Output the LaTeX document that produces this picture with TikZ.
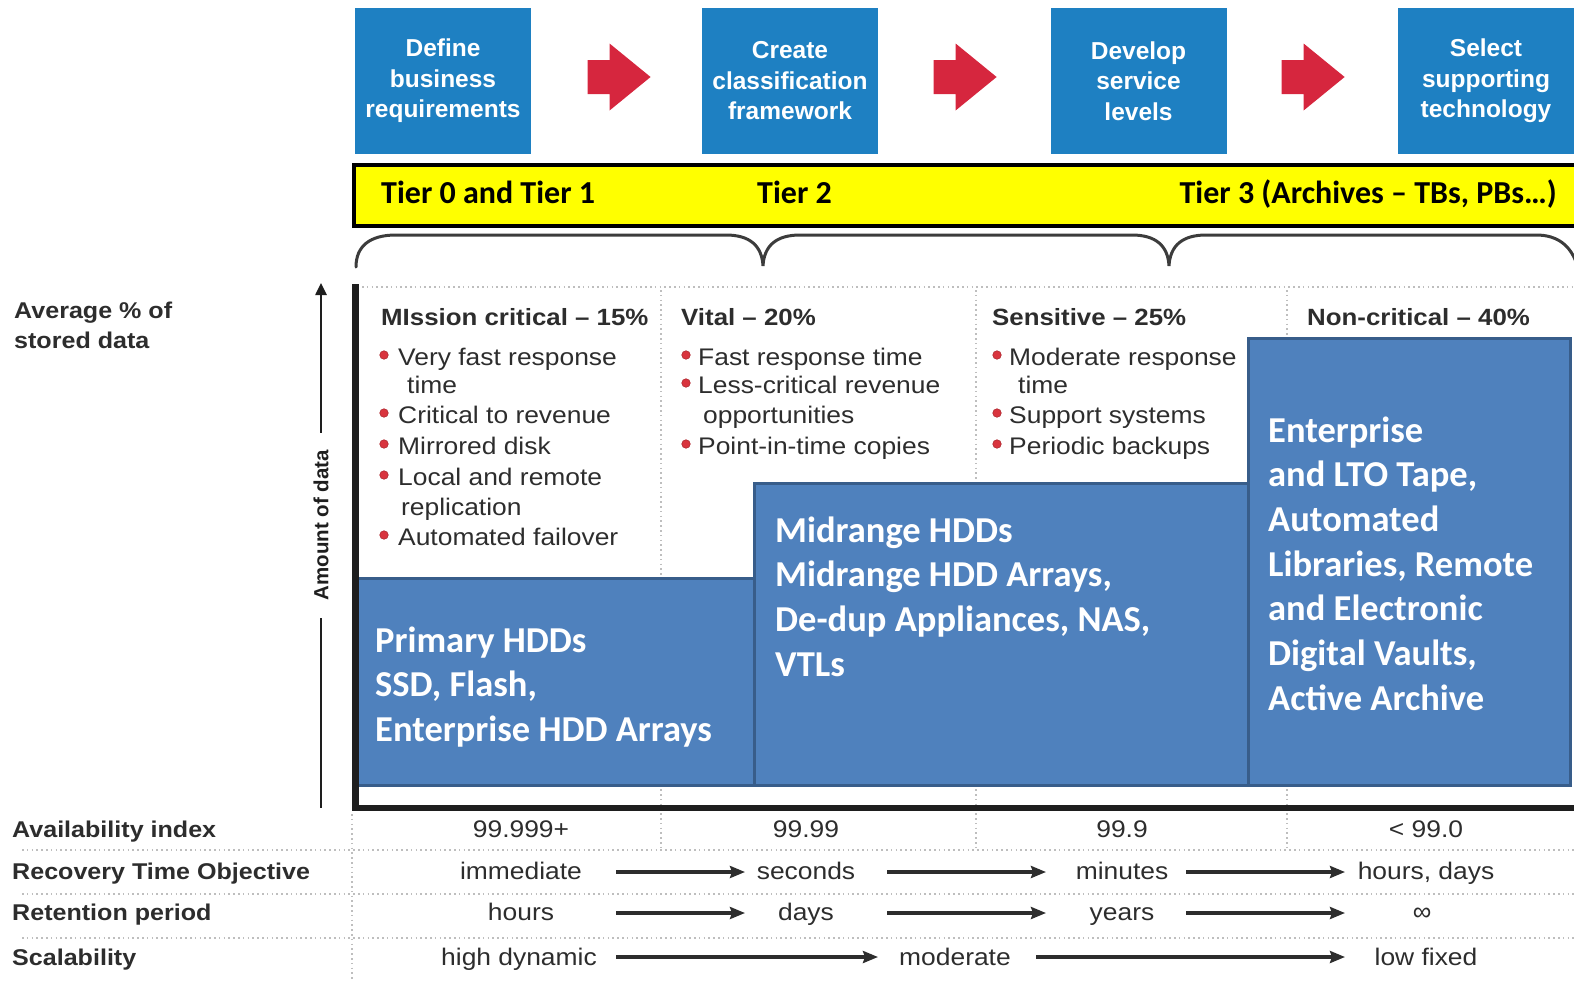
\documentclass[tikz,border=0pt]{standalone}
\usepackage{fontspec}
\setmainfont{Liberation Sans}
\newfontfamily\calfont{Carlito}
\newfontfamily\widefont[FakeStretch=1.1]{Liberation Sans}
\usetikzlibrary{arrows.meta}

\definecolor{stepblue}{RGB}{30,128,194}
\definecolor{arrowred}{RGB}{214,38,62}
\definecolor{tierfill}{RGB}{255,255,0}
\definecolor{storefill}{RGB}{79,129,189}
\definecolor{storeline}{RGB}{56,93,138}
\definecolor{ink}{RGB}{45,45,45}
\definecolor{bulletred}{RGB}{217,52,62}
\definecolor{dotgray}{RGB}{190,190,190}
\definecolor{braceink}{RGB}{60,60,60}
\definecolor{axisink}{RGB}{30,30,30}

\begin{document}
\begin{tikzpicture}[x=1pt,y=-1pt,
  stepbox/.style={fill=stepblue, minimum width=176pt, minimum height=146pt,
    inner sep=0pt, text=white, align=center,
    font=\fontsize{24.5}{30.5}\selectfont\bfseries},
  redarrow/.style={fill=arrowred, shift={(#1)}},
  tierband/.style={draw=black, line width=4.5pt, fill=tierfill,
    minimum width=1236pt, minimum height=61pt, inner sep=0pt},
  tiertxt/.style={inner sep=0pt, font=\calfont\fontsize{32}{38}\selectfont\bfseries},
  store/.style={draw=storeline, line width=3pt, fill=storefill},
  storetxt/.style={anchor=base west, inner sep=0pt, text=white,
    font=\calfont\fontsize{36.5}{44}\selectfont\bfseries},
  colhead/.style={anchor=base west, inner sep=0pt, text=ink,
    font=\widefont\fontsize{23.5}{28}\selectfont\bfseries},
  bulletitem/.style={anchor=base west, inner sep=0pt, text=ink,
    font=\widefont\fontsize{24}{28}\selectfont},
  bulletdot/.style={circle, fill=bulletred, draw=bulletred!80!black, line width=0.6pt,
    minimum size=8.5pt, inner sep=0pt},
  rowlabel/.style={anchor=base west, inner sep=0pt, text=ink,
    font=\widefont\fontsize{22.8}{28}\selectfont\bfseries},
  tabcell/.style={anchor=base, inner sep=0pt, text=ink,
    font=\widefont\fontsize{24}{28}\selectfont},
  dotline/.style={draw=dotgray, line width=1.4pt, dash pattern=on 1.6pt off 3.2pt},
  flow/.style={draw=ink, line width=3.2pt, -{Stealth[length=15pt,width=12pt,inset=2pt]}},
  axisarrow/.style={draw=axisink, line width=2.5pt},
]
\useasboundingbox (0,0) rectangle (1574,980);

% ---- process steps ----
\node[stepbox] (s1) at (443,81) {Define\\business\\requirements};
\node[stepbox] (s2) at (790,81) {Create\\classification\\framework};
\node[stepbox] (s3) at (1138.5,81) {Develop\\service\\levels};
\node[stepbox] (s4) at (1486,81) {Select\\supporting\\technology};
\path (s1) -- coordinate[pos=0.515] (r1) (s2);
\path (s2) -- coordinate[pos=0.505] (r2) (s3);
\path (s3) -- coordinate[pos=0.505] (r3) (s4);
% block arrows between the steps
\foreach \c in {r1,r2,r3}
  \fill[redarrow=\c] (-31.5,-21) -- (-9.5,-21) -- (-9.5,-37.5) -- (31.5,-4)
    -- (-9.5,29.5) -- (-9.5,13) -- (-31.5,13) -- cycle;

% ---- tier band ----
\node[tierband] (band) at (972,195.5) {};
\node[tiertxt, anchor=base west] (t01) at (381,203) {Tier 0 and Tier 1};
\node[tiertxt, anchor=base west] (t2) at (757,203) {Tier 2};
\node[tiertxt, anchor=base east] (t3) at (1557,203) {Tier 3 (Archives – TBs, PBs…)};

% ---- braces under the band ----
\draw[braceink, line width=3pt, line cap=round]
  (356,267) .. controls (356,246) and (370,235) .. (396,235)
  -- (726,235) .. controls (750,235) and (762,246) .. (763,266)
  .. controls (764,246) and (776,235) .. (800,235)
  -- (1132,235) .. controls (1156,235) and (1168,246) .. (1169,266)
  .. controls (1170,246) and (1182,235) .. (1206,235)
  -- (1536,235) .. controls (1558,235) and (1570,246) .. (1576,262);

% ---- grid lines ----
\draw[dotline] (362,287) -- (1574,287);
\draw[dotline] (661,290) -- (661,850);
\draw[dotline] (976,290) -- (976,850);
\draw[dotline] (1287,290) -- (1287,850);
\draw[dotline] (352,814) -- (352,980);
\foreach \yy in {850,894,938} \draw[dotline] (22,\yy) -- (1574,\yy);

% ---- storage tiers ----
\node[store, minimum width=401pt, minimum height=207pt, inner sep=0pt] (boxA) at (553.5,681.5) {};
\node[store, minimum width=494pt, minimum height=302pt, inner sep=0pt] (boxB) at (1001,634) {};
\node[store, minimum width=322pt, minimum height=447pt, inner sep=0pt] (boxC) at (1409,561.5) {};

\foreach \t [count=\i] in {Primary HDDs,{SSD, Flash,},Enterprise HDD Arrays}
  \node[storetxt] (ta\i) at (375,{652+44.7*(\i-1)}) {\t};
\foreach \t [count=\i] in {Midrange HDDs,{Midrange HDD Arrays,},{De-dup Appliances, NAS,},VTLs}
  \node[storetxt] (tb\i) at (775,{542+44.7*(\i-1)}) {\t};
\foreach \t [count=\i] in {Enterprise,{and LTO Tape,},{Automated},{Libraries, Remote},and Electronic,{Digital Vaults,},Active Archive}
  \node[storetxt] (tc\i) at (1268,{442+44.7*(\i-1)}) {\t};

% ---- axes ----
\draw[axisink, line width=6.5pt] (355.5,284) -- (355.5,808) -- (1580,808);
\node[inner sep=0pt, rotate=90, text=axisink, font=\fontsize{20.5}{24}\selectfont\bfseries] (amt) at (321,525) {Amount of data};
\coordinate (atop) at (321,283);
\coordinate (abot) at (321,808);
\draw[axisarrow, -{Triangle[length=12pt,width=11pt]}] ([yshift=17pt]amt.east) -- (atop);
\draw[axisarrow] ([yshift=-18pt]amt.west) -- (abot);

\node[rowlabel] (avg1) at (14,318) {Average \% of};
\node[rowlabel] (avg2) at (14,348) {stored data};

% ---- column headings ----
\node[colhead] (h1) at (381,325) {MIssion critical – 15\%};
\node[colhead] (h2) at (681,325) {Vital – 20\%};
\node[colhead] (h3) at (992,325) {Sensitive – 25\%};
\node[colhead] (h4) at (1307,325) {Non-critical – 40\%};

% ---- column 1 ----
\node[bulletdot] (d11) at (384,355) {};
\node[bulletitem] (i11) at (398,365) {Very fast response};
\node[bulletitem] (i11b) at (407,393) {time};
\node[bulletdot] (d12) at (384,413) {};
\node[bulletitem] (i12) at (398,423) {Critical to revenue};
\node[bulletdot] (d13) at (384,444) {};
\node[bulletitem] (i13) at (398,454) {Mirrored disk};
\node[bulletdot] (d14) at (384,475) {};
\node[bulletitem] (i14) at (398,485) {Local and remote};
\node[bulletitem] (i14b) at (401,515) {replication};
\node[bulletdot] (d15) at (384,535) {};
\node[bulletitem] (i15) at (398,545) {Automated failover};

% ---- column 2 ----
\node[bulletdot] (d21) at (686,355) {};
\node[bulletitem] (i21) at (698,365) {Fast response time};
\node[bulletdot] (d22) at (686,383) {};
\node[bulletitem] (i22) at (698,393) {Less-critical revenue};
\node[bulletitem] (i22b) at (703,423) {opportunities};
\node[bulletdot] (d23) at (686,444) {};
\node[bulletitem] (i23) at (698,454) {Point-in-time copies};

% ---- column 3 ----
\node[bulletdot] (d31) at (997,355) {};
\node[bulletitem] (i31) at (1009,365) {Moderate response};
\node[bulletitem] (i31b) at (1018,393) {time};
\node[bulletdot] (d32) at (997,413) {};
\node[bulletitem] (i32) at (1009,423) {Support systems};
\node[bulletdot] (d33) at (997,444) {};
\node[bulletitem] (i33) at (1009,454) {Periodic backups};

% ---- table ----
\node[rowlabel] (lav) at (12,837) {Availability index};
\node[rowlabel] (lrto) at (12,879) {Recovery Time Objective};
\node[rowlabel] (lret) at (12,920) {Retention period};
\node[rowlabel] (lsc) at (12,965) {Scalability};

\node[tabcell] (av1) at (521,837) {99.999+};
\node[tabcell] (av2) at (806,837) {99.99};
\node[tabcell] (av3) at (1122,837) {99.9};
\node[tabcell] (av4) at (1426,837) {< 99.0};

\node[tabcell] (rt1) at (521,879) {immediate};
\node[tabcell] (rt2) at (806,879) {seconds};
\node[tabcell] (rt3) at (1122,879) {minutes};
\node[tabcell] (rt4) at (1426,879) {hours, days};
\draw[flow] ([xshift=95pt,yshift=7pt]rt1.base) -- ([xshift=-61pt,yshift=7pt]rt2.base);
\draw[flow] ([xshift=81pt,yshift=7pt]rt2.base) -- ([xshift=-76pt,yshift=7pt]rt3.base);
\draw[flow] ([xshift=64pt,yshift=7pt]rt3.base) -- ([xshift=-81pt,yshift=7pt]rt4.base);

\node[tabcell] (re1) at (521,920) {hours};
\node[tabcell] (re2) at (806,920) {days};
\node[tabcell] (re3) at (1122,920) {years};
\node[tabcell, font=\fontsize{26}{28}\selectfont] (re4) at (1422,920) {∞};
\draw[flow] ([xshift=95pt,yshift=7pt]re1.base) -- ([xshift=-61pt,yshift=7pt]re2.base);
\draw[flow] ([xshift=81pt,yshift=7pt]re2.base) -- ([xshift=-76pt,yshift=7pt]re3.base);
\draw[flow] ([xshift=64pt,yshift=7pt]re3.base) -- ([xshift=-77pt,yshift=7pt]re4.base);

\node[tabcell] (sc1) at (519,965) {high dynamic};
\node[tabcell] (sc2) at (955,965) {moderate};
\node[tabcell] (sc3) at (1426,965) {low fixed};
\draw[flow] ([xshift=97pt,yshift=8pt]sc1.base) -- ([xshift=-77pt,yshift=8pt]sc2.base);
\draw[flow] ([xshift=81pt,yshift=8pt]sc2.base) -- ([xshift=-81pt,yshift=8pt]sc3.base);
\end{tikzpicture}
\end{document}
